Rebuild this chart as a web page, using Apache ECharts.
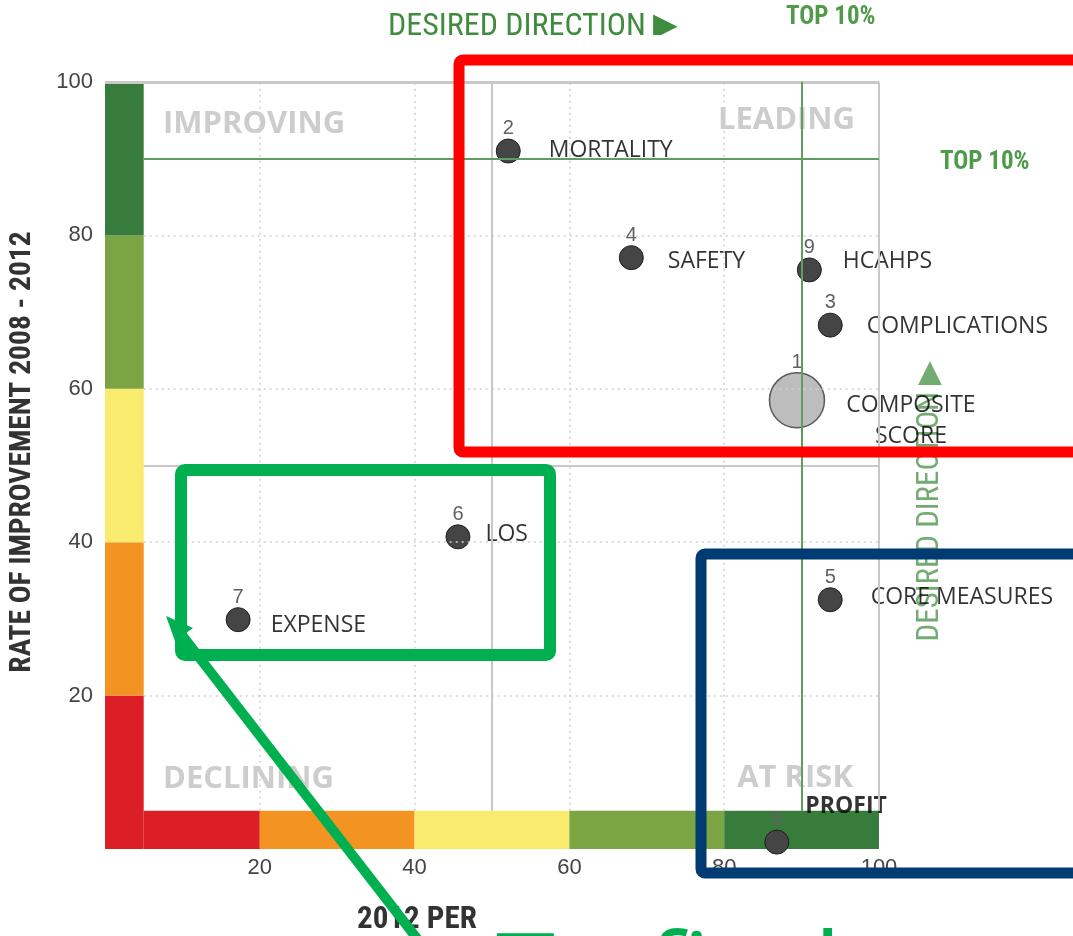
<!DOCTYPE html>
<html><head><meta charset="utf-8">
<script src="https://cdn.jsdelivr.net/npm/echarts@6/dist/echarts.min.js"></script>
<style>html,body{margin:0;padding:0;background:#fff}#chart{width:1073px;height:936px}</style>
</head><body><div id="chart"></div>
<script>
// ---------- data ----------
const X_TICKS = [20, 40, 60, 80, 100];
const Y_TICKS = [20, 40, 60, 80, 100];
const GRID_STEPS = [20, 40, 60, 80];
const POINT_IDS = ['1', '2', '3', '4', '5', '6', '7', '8', '9'];
const POINT_NAMES = ['COMPOSITE\nSCORE', 'MORTALITY', 'COMPLICATIONS', 'SAFETY', 'CORE MEASURES', 'LOS', 'EXPENSE', 'PROFIT', 'HCAHPS'];
const PERFORMANCE_2012 = [89.4, 52.1, 93.7, 68.0, 93.7, 45.6, 17.2, 86.8, 91.0];
const IMPROVEMENT_2008_2012 = [58.5, 91.0, 68.3, 77.1, 32.5, 40.7, 29.9, 0.9, 75.5];
const BAND_BREAKS = [0, 20, 40, 60, 80, 100];
const BAND_COLORS = ['#DC1F26', '#F39321', '#F9EB6D', '#7BA442', '#387C3B'];
const BAND_DEPTH = 5;
const MIDLINE = 50;
const TOP_DECILE = 90;
const QUADRANT_NAMES = ['IMPROVING', 'LEADING', 'DECLINING', 'AT RISK'];
const Y_TITLE = 'RATE OF IMPROVEMENT 2008 - 2012';
const X_TITLE = '2012 PER';
const DIRECTION_TEXT = 'DESIRED DIRECTION \u25B6';
const TOP_TEXT = 'TOP 10%';
const CALLOUT_TEXT = 'To find';

// ---------- layout (not data) ----------
const NAME_OFFSETS = [[114, 21], [40, -1], [36, 1], [36, 4], [40, -2], [27, -2], [32, 6], [28, -36], [33, -8]];
const NARROW = "'Liberation Sans Narrow','Roboto Condensed','Liberation Sans',Arial,sans-serif";
const SANS = "'Liberation Sans',Arial,sans-serif";
const LABEL_FONT = "'Open Sans','Liberation Sans',sans-serif";

const chart = echarts.init(document.getElementById('chart'), null, {renderer: 'canvas'});

// bands
const bandAreas = [];
for (let i = 0; i < BAND_COLORS.length; i++) {
  bandAreas.push([{coord: [0, BAND_BREAKS[i]], itemStyle: {color: BAND_COLORS[i]}}, {coord: [BAND_DEPTH, BAND_BREAKS[i + 1]]}]);
  bandAreas.push([{coord: [Math.max(BAND_BREAKS[i], BAND_DEPTH), 0], itemStyle: {color: BAND_COLORS[i]}}, {coord: [BAND_BREAKS[i + 1], BAND_DEPTH]}]);
}

// grid lines
const grey = '#c8c8c8', green = '#5E9F5E';
const lines = [];
GRID_STEPS.forEach(v => {
  lines.push([{coord: [v, BAND_DEPTH], lineStyle: {color: '#cfcfcf', type: [2, 4], width: 1.5}}, {coord: [v, 100]}]);
  lines.push([{coord: [BAND_DEPTH, v], lineStyle: {color: '#cfcfcf', type: [2, 4], width: 1.5}}, {coord: [100, v]}]);
});
lines.push([{coord: [MIDLINE, BAND_DEPTH], lineStyle: {color: grey, type: 'solid', width: 2}}, {coord: [MIDLINE, 100]}]);
lines.push([{coord: [BAND_DEPTH, MIDLINE], lineStyle: {color: grey, type: 'solid', width: 2}}, {coord: [100, MIDLINE]}]);
lines.push([{coord: [0, 100], lineStyle: {color: grey, type: 'solid', width: 3}}, {coord: [100, 100]}]);
lines.push([{coord: [100, BAND_DEPTH], lineStyle: {color: grey, type: 'solid', width: 2}}, {coord: [100, 100]}]);
lines.push([{coord: [BAND_DEPTH, TOP_DECILE], lineStyle: {color: green, type: 'solid', width: 2}}, {coord: [100, TOP_DECILE]}]);
lines.push([{coord: [TOP_DECILE, BAND_DEPTH], lineStyle: {color: green, type: 'solid', width: 2}}, {coord: [TOP_DECILE, 100]}]);

const points = PERFORMANCE_2012.map((x, i) => ({
  value: [x, IMPROVEMENT_2008_2012[i]],
  symbolSize: i === 0 ? 55 : 24,
  itemStyle: i === 0 ? {color: '#BDBDBD', borderColor: '#5a5a5a', borderWidth: 1.5, opacity: 1}
                     : {color: '#454545', borderColor: '#1e1e1e', borderWidth: 1, opacity: 1}
}));

const names = PERFORMANCE_2012.map((x, i) => {
  const item = {value: [x, IMPROVEMENT_2008_2012[i]], label: {offset: NAME_OFFSETS[i]}};
  if (i === 0) { item.label.position = 'inside'; item.label.align = 'center'; }
  if (POINT_NAMES[i] === 'PROFIT') { item.label.fontWeight = 'bold'; }
  return item;
});

function s(o) { if (o.align) { o.textAlign = o.align; } if (o.verticalAlign) { o.textVerticalAlign = o.verticalAlign; } return o; }
function txt(text, x, y, style, el) {
  const st = Object.assign({text: text, align: 'left', verticalAlign: 'middle'}, style);
  return Object.assign({type: 'text', x: x, y: y, z: 2, silent: true, style: s(st)}, el || {});
}

const quadFont = "bold 31px 'Open Sans','Liberation Sans',sans-serif";
const graphics = [
  txt(QUADRANT_NAMES[0], 163, 124, {fill: '#CDCDCD', font: quadFont}),
  txt(QUADRANT_NAMES[1], 855, 120, {fill: '#CDCDCD', font: quadFont, align: 'right'}),
  txt(QUADRANT_NAMES[2], 163, 779, {fill: '#CDCDCD', font: quadFont}),
  txt(QUADRANT_NAMES[3], 853, 778, {fill: '#CDCDCD', font: quadFont, align: 'right'}),
  txt(Y_TITLE, 23, 452, {align: 'center', fill: '#333', font: 'bold 29.5px ' + NARROW}, {rotation: Math.PI / 2}),
  txt(X_TITLE, 357, 920, {fill: '#333', font: 'bold 31px ' + NARROW}),
  txt(DIRECTION_TEXT, 388, 27, {fill: '#3F8C3F', font: '32px ' + NARROW}),
  {type: 'rect', z: 3, silent: true, shape: {x: 380, y: 35, width: 300, height: 14}, style: {fill: '#fff'}},
  txt(TOP_TEXT, 786, 18, {fill: '#4E9B4A', font: 'bold 25px ' + NARROW}),
  txt(TOP_TEXT, 940, 163, {fill: '#4E9B4A', font: 'bold 25px ' + NARROW}),
  txt(DIRECTION_TEXT, 930, 501, {align: 'center', fill: 'rgba(80,150,80,0.8)', font: '31px ' + NARROW}, {rotation: Math.PI / 2}),
  // annotations
  {type: 'rect', z: 20, silent: true, shape: {x: 459, y: 60, width: 700, height: 392, r: 4}, style: {fill: 'none', stroke: '#FF0000', lineWidth: 11}},
  {type: 'rect', z: 20, silent: true, shape: {x: 181, y: 470, width: 369, height: 185, r: 4}, style: {fill: 'none', stroke: '#00B050', lineWidth: 12}},
  {type: 'rect', z: 20, silent: true, shape: {x: 701, y: 554, width: 700, height: 319, r: 4}, style: {fill: 'none', stroke: '#003B71', lineWidth: 11}},
  {type: 'line', z: 20, silent: true, shape: {x1: 422, y1: 945, x2: 178, y2: 630}, style: {stroke: '#00B050', lineWidth: 10}},
  {type: 'polygon', z: 20, silent: true, shape: {points: [[166, 616], [193, 628], [175, 641]]}, style: {fill: '#00B050'}},
  txt(CALLOUT_TEXT, 496, 925, {verticalAlign: 'top', fill: '#00B050', font: "107px 'Open Sans',sans-serif"}, {z: 21})
];

chart.setOption({
  animation: false,
  grid: {left: 105, right: 194, top: 82, bottom: 87},
  xAxis: {type: 'value', min: 0, max: 100, interval: 20,
    axisLine: {show: false}, axisTick: {show: false}, splitLine: {show: false},
    axisLabel: {margin: 8, color: '#444', fontSize: 22, fontFamily: SANS,
      formatter: v => X_TICKS.indexOf(v) >= 0 ? String(v) : ''}},
  yAxis: {type: 'value', min: 0, max: 100, interval: 20,
    axisLine: {show: false}, axisTick: {show: false}, splitLine: {show: false},
    axisLabel: {margin: 12, color: '#444', fontSize: 22, fontFamily: SANS,
      formatter: v => Y_TICKS.indexOf(v) >= 0 ? String(v) : ''}},
  graphic: {elements: graphics},
  series: [
    {type: 'scatter', z: 1, data: [], silent: true,
      markArea: {silent: true, data: bandAreas, itemStyle: {borderWidth: 0, opacity: 1}}},
    {type: 'scatter', z: 1.5, data: [], silent: true,
      markLine: {silent: true, symbol: ['none', 'none'], label: {show: false}, data: lines}},
    {type: 'scatter', z: 3, data: points, silent: true,
      label: {show: true, position: 'top', distance: 0, color: '#606060', fontSize: 20, fontFamily: SANS,
        formatter: p => POINT_IDS[p.dataIndex]}},
    {type: 'scatter', z: 4, data: names, symbolSize: 1, silent: true, itemStyle: {color: 'transparent'},
      label: {show: true, position: 'right', distance: 0, color: '#000', fontSize: 23, lineHeight: 31,
        fontFamily: LABEL_FONT, formatter: p => POINT_NAMES[p.dataIndex]}}
  ]
});
</script></body></html>
